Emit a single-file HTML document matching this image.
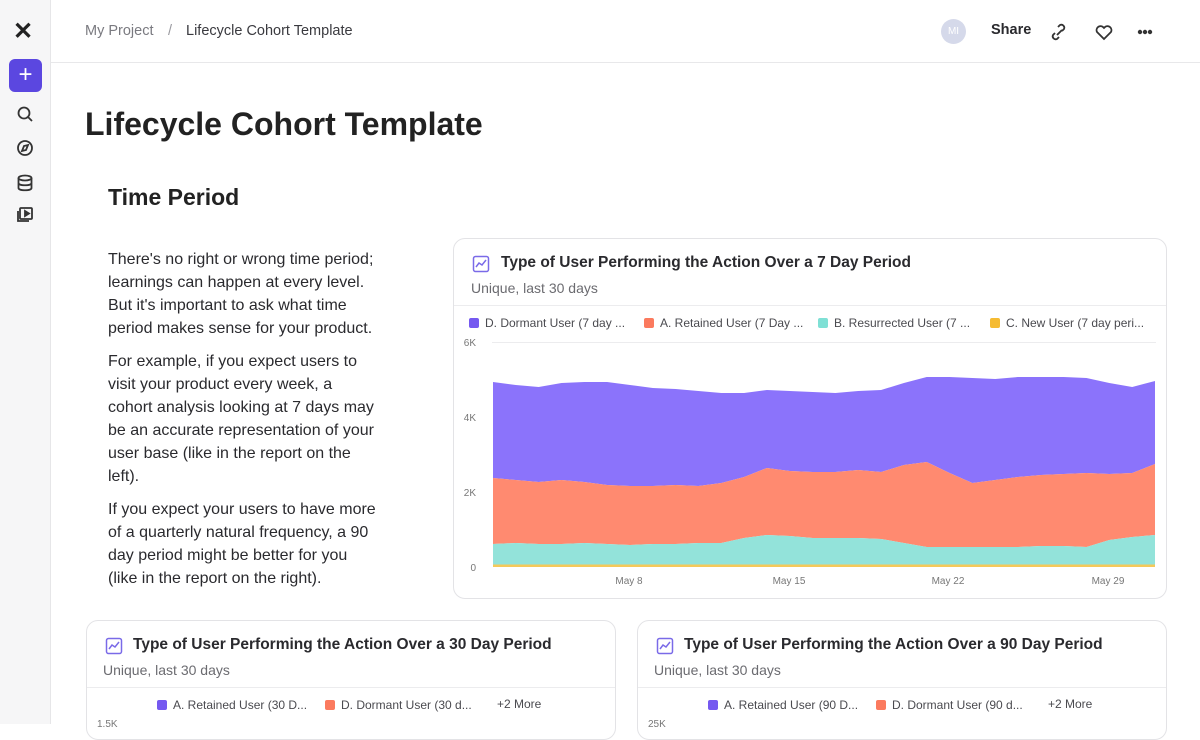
<!DOCTYPE html>
<html><head><meta charset="utf-8"><style>
*{margin:0;padding:0;box-sizing:border-box}
body{width:1200px;height:724px;overflow:hidden;background:#fff;font-family:"Liberation Sans",sans-serif;color:#1f1f23;position:relative}
.side{position:absolute;left:0;top:0;width:51px;height:724px;background:#f6f6f7;border-right:1px solid #e6e6e8}
.hdr{position:absolute;left:51px;top:0;right:0;height:63px;border-bottom:1px solid #e8e8ea}
.abs{position:absolute}
.card{position:absolute;border:1px solid #e3e3e6;border-radius:12px;background:#fff;overflow:hidden}
.ct{font-size:15.5px;font-weight:bold;color:#2a2a2e;white-space:nowrap}
.sub{font-size:14px;color:#6b6b70}
.leg{font-size:12px;color:#4a4a4f;display:flex;align-items:center;white-space:nowrap}
.sq{display:inline-block;width:10px;height:10px;border-radius:2px;margin-right:6px}
p.t{font-size:16px;line-height:23px;color:#2a2a2e;margin-bottom:10px}
</style></head><body>
<div class="side">
 <div class="abs" style="left:13px;top:17px;font-size:24px;font-weight:bold;color:#222">✕</div>
 <div class="abs" style="left:9px;top:59px;width:33px;height:33px;background:#5b47e0;border-radius:6px;color:#fff;font-size:24px;text-align:center;line-height:32px">+</div>
 <svg class="abs" style="left:15px;top:104px" width="20" height="125" fill="none" stroke="#333" stroke-width="1.8">
  <circle cx="9" cy="9" r="5.5"/><line x1="13" y1="13" x2="17" y2="17"/>
  <circle cx="10" cy="44" r="7"/><path d="M13 41 L11 46 L7 47 L9 42Z"/>
  <ellipse cx="10" cy="74" rx="6.5" ry="2.5"/><path d="M3.5 74v10c0 3 13 3 13 0V74M3.5 79c0 3 13 3 13 0"/>
  <rect x="5" y="104" width="12" height="11" rx="1"/><path d="M3 107v10h11"/><path d="M10 107l4 2.5-4 2.5z" fill="#333"/>
 </svg>
</div>
<div class="hdr">
 <div class="abs" style="left:34px;top:23px;font-size:14.5px;color:#7a7a80">My Project</div>
 <div class="abs" style="left:117px;top:23px;font-size:14.5px;color:#9a9aa0">/</div>
 <div class="abs" style="left:135px;top:23px;font-size:14.5px;color:#3a3a3f">Lifecycle Cohort Template</div>
 <div class="abs" style="left:890px;top:19px;width:25px;height:25px;border-radius:50%;background:#d5d9ea;color:#fff;font-size:10px;text-align:center;line-height:25px">MI</div>
 <div class="abs" style="left:940px;top:22px;font-size:14.5px;font-weight:bold;color:#2a2a2e">Share</div>
 <svg class="abs" style="left:997px;top:21px" width="110" height="22" fill="none" stroke="#333" stroke-width="1.8">
  <path d="M8 12l5-5M6 10l-2 2a3 3 0 004 4l2-2M13 8l2-2a3 3 0 00-4-4l-2 2" transform="translate(1,2)"/>
  <path d="M56 18l-7-7a4 4 0 016-5l1 1 1-1a4 4 0 016 5z"/>
  <circle cx="92" cy="11" r="1.3" fill="#333"/><circle cx="97" cy="11" r="1.3" fill="#333"/><circle cx="102" cy="11" r="1.3" fill="#333"/>
 </svg>
</div>
<div class="abs" style="left:85px;top:106px;font-size:32px;font-weight:bold;color:#222">Lifecycle Cohort Template</div>
<div class="abs" style="left:108px;top:184px;font-size:23px;font-weight:bold;color:#222">Time Period</div>
<div class="abs" style="left:108px;top:248px;width:270px">
<p class="t">There's no right or wrong time period; learnings can happen at every level. But it's important to ask what time period makes sense for your product.</p>
<p class="t">For example, if you expect users to visit your product every week, a cohort analysis looking at 7 days may be an accurate representation of your user base (like in the report on the left).</p>
<p class="t">If you expect your users to have more of a quarterly natural frequency, a 90 day period might be better for you (like in the report on the right).</p>
</div>
<div class="card" style="left:453px;top:238px;width:714px;height:361px">
 <svg class="abs" style="left:18px;top:16px" width="18" height="18" fill="none" stroke="#7a6ae8" stroke-width="1.5"><rect x="1.5" y="1.5" width="15" height="15" rx="2"/><path d="M4 12l3-4 3 2 4-5"/></svg>
 <div class="abs ct" style="left:47px;top:15px">Type of User Performing the Action Over a 7 Day Period</div>
 <div class="abs sub" style="left:17px;top:41px">Unique, last 30 days</div>
 <div class="abs" style="left:0;top:66px;width:714px;border-top:1px solid #ececee"></div>
 <div class="abs leg" style="left:15px;top:77px"><span class="sq" style="background:#7559f0"></span>D. Dormant User (7 day ...</div>
 <div class="abs leg" style="left:190px;top:77px"><span class="sq" style="background:#fb7a5e"></span>A. Retained User (7 Day ...</div>
 <div class="abs leg" style="left:364px;top:77px"><span class="sq" style="background:#7fe0d5"></span>B. Resurrected User (7 ...</div>
 <div class="abs leg" style="left:536px;top:77px"><span class="sq" style="background:#f5bb32"></span>C. New User (7 day peri...</div>
</div>
<svg class="abs" style="left:0;top:0" width="1200" height="724" id="ch"></svg>
<div class="card" style="left:86px;top:620px;width:530px;height:120px">
 <svg class="abs" style="left:18px;top:16px" width="18" height="18" fill="none" stroke="#7a6ae8" stroke-width="1.5"><rect x="1.5" y="1.5" width="15" height="15" rx="2"/><path d="M4 12l3-4 3 2 4-5"/></svg>
 <div class="abs ct" style="left:46px;top:15px">Type of User Performing the Action Over a 30 Day Period</div>
 <div class="abs sub" style="left:16px;top:41px">Unique, last 30 days</div>
 <div class="abs" style="left:0;top:66px;width:530px;border-top:1px solid #ececee"></div>
 <div class="abs leg" style="left:70px;top:77px"><span class="sq" style="background:#7559f0"></span>A. Retained User (30 D...</div>
 <div class="abs leg" style="left:238px;top:77px"><span class="sq" style="background:#fb7a5e"></span>D. Dormant User (30 d...</div>
 <div class="abs leg" style="left:410px;top:76px">+2 More</div>
 <div class="abs" style="left:10px;top:98px;font-size:10px;color:#777">1.5K</div>
</div>
<div class="card" style="left:637px;top:620px;width:530px;height:120px">
 <svg class="abs" style="left:18px;top:16px" width="18" height="18" fill="none" stroke="#7a6ae8" stroke-width="1.5"><rect x="1.5" y="1.5" width="15" height="15" rx="2"/><path d="M4 12l3-4 3 2 4-5"/></svg>
 <div class="abs ct" style="left:46px;top:15px">Type of User Performing the Action Over a 90 Day Period</div>
 <div class="abs sub" style="left:16px;top:41px">Unique, last 30 days</div>
 <div class="abs" style="left:0;top:66px;width:530px;border-top:1px solid #ececee"></div>
 <div class="abs leg" style="left:70px;top:77px"><span class="sq" style="background:#7559f0"></span>A. Retained User (90 D...</div>
 <div class="abs leg" style="left:238px;top:77px"><span class="sq" style="background:#fb7a5e"></span>D. Dormant User (90 d...</div>
 <div class="abs leg" style="left:410px;top:76px">+2 More</div>
 <div class="abs" style="left:10px;top:98px;font-size:10px;color:#777">25K</div>
</div>
<script>
var P=[382,385,387,383,382,382,385,388,389,391,393,393,390,391,392,393,391,390,383,377,377,378,379,377,377,377,378,383,387,381];
var R=[478,480,482,480,482,485,486,486,485,486,483,477,468,471,472,472,470,472,465,462,473,483,480,477,475,474,473,474,473,464];
var T=[544,543,544,544,543,544,545,544,544,543,543,538,535,536,538,538,538,539,543,547,547,547,547,547,546,546,547,540,537,535];
var Y=T.map(function(){return 564.5});
var B=T.map(function(){return 567});
function x(i){return 493+i*(662/29)}
function band(top,bot,c){var s='';for(var i=0;i<top.length;i++)s+=x(i).toFixed(1)+','+top[i]+' ';for(var i=bot.length-1;i>=0;i--)s+=x(i).toFixed(1)+','+bot[i]+' ';return '<polygon points="'+s+'" fill="'+c+'"/>';}
var h='<line x1="492" y1="342.5" x2="1156" y2="342.5" stroke="#ececee"/>';
h+=band(P,R,'#8b73fb')+band(R,T,'#ff8a70')+band(T,Y,'#93e3da')+band(Y,B,'#f5c95a');
[['6K',342],['4K',417],['2K',492],['0',567]].forEach(function(a){h+='<text x="476" y="'+(a[1]+4)+'" font-size="10" fill="#777" text-anchor="end" font-family="Liberation Sans">'+a[0]+'</text>'});
[['May 8',629],['May 15',789],['May 22',948],['May 29',1108]].forEach(function(a){h+='<text x="'+a[1]+'" y="584" font-size="10" fill="#777" text-anchor="middle" font-family="Liberation Sans">'+a[0]+'</text>'});
document.getElementById('ch').innerHTML=h;
</script>
</body></html>
